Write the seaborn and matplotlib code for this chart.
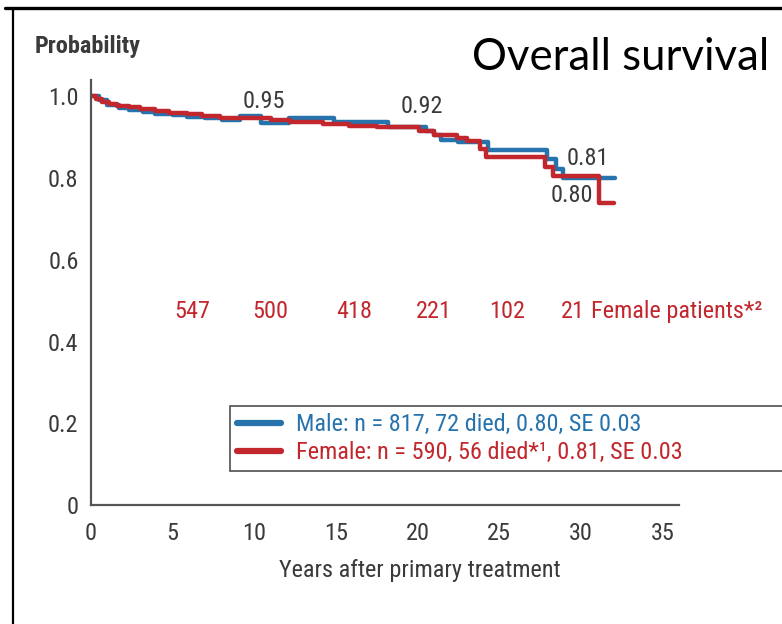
import numpy as np
import pandas as pd
import matplotlib
matplotlib.use("Agg")
import matplotlib.pyplot as plt
from matplotlib.lines import Line2D
import seaborn as sns

# ---- data ----
male_t = [0.0, 0.5, 1.0, 1.7, 2.3, 3.2, 3.9, 5.0, 5.9, 7.0, 8.0, 9.1, 10.4, 12.1, 14.9,
          18.2, 20.5, 21.0, 21.4, 22.5, 24.3, 27.9, 28.5, 28.9, 32.1]
male_s = [1.000, 0.990, 0.978, 0.972, 0.967, 0.962, 0.958, 0.954, 0.950, 0.946, 0.942, 0.952,
          0.936, 0.946, 0.938, 0.924, 0.915, 0.905, 0.893, 0.888, 0.868, 0.846, 0.822, 0.799, 0.799]
female_t = [0.0, 0.3, 0.7, 1.1, 1.6, 2.3, 3.0, 3.9, 4.8, 5.9, 6.8, 7.9, 9.3, 11.0, 12.2, 14.2,
            15.8, 17.5, 20.1, 21.0, 22.4, 23.0, 23.8, 24.2, 27.8, 28.3, 31.1, 32.0]
female_s = [1.000, 0.993, 0.987, 0.982, 0.976, 0.973, 0.968, 0.964, 0.960, 0.956, 0.952, 0.948,
            0.946, 0.942, 0.937, 0.932, 0.928, 0.924, 0.916, 0.905, 0.897, 0.891, 0.872, 0.852,
            0.828, 0.806, 0.739, 0.739]

groups = ["Male", "Female"]
legend_labels = ["Male: n = 817, 72 died, 0.80, SE 0.03",
                 "Female: n = 590, 56 died*\u00b9, 0.81, SE 0.03"]
at_risk_labels = ["547", "500", "418", "221", "102", "21"]
at_risk_x = [6.2, 11.0, 16.1, 21.0, 25.5, 29.5]
value_labels = ["0.95", "0.92", "0.81", "0.80"]
value_x = [10.6, 20.25, 30.4, 29.45]
value_y = [0.988, 0.974, 0.849, 0.757]
x_ticks = [0, 5, 10, 15, 20, 25, 30, 35]
y_ticks = [0, 0.2, 0.4, 0.6, 0.8, 1.0]
y_ticklabels = ["0", "0.2", "0.4", "0.6", "0.8", "1.0"]

df = pd.concat([
    pd.DataFrame({"t": male_t, "S": male_s, "group": "Male"}),
    pd.DataFrame({"t": female_t, "S": female_s, "group": "Female"}),
], ignore_index=True)

BLUE = "#2673ad"
RED = "#c1272d"
GRAY = "#3a3a3a"
AX = "#555555"
FS = 17.5

sns.set_theme(style="white")
narrow = ["Liberation Sans Narrow", "Roboto Condensed", "DejaVu Sans"]
plt.rcParams["font.family"] = narrow

fig = plt.figure(figsize=(7.82, 6.24), dpi=100)
ax = fig.add_axes([91 / 782, 1 - 505 / 624, 588 / 782, (505 - 80) / 624])

sns.lineplot(data=df, x="t", y="S", hue="group", hue_order=groups,
             palette={"Male": BLUE, "Female": RED}, estimator=None, sort=False,
             drawstyle="steps-post", lw=3.2, legend=False, ax=ax)

ax.set_xlim(0, 36)
ax.set_ylim(0, 1.04)
ax.set_xticks(x_ticks)
ax.set_xticklabels([str(v) for v in x_ticks])
ax.set_yticks(y_ticks)
ax.set_yticklabels(y_ticklabels)
for s in ["top", "right"]:
    ax.spines[s].set_visible(False)
for s in ["left", "bottom"]:
    ax.spines[s].set_color(AX)
    ax.spines[s].set_linewidth(1.6)
ax.tick_params(axis="both", direction="out", length=6, width=1.4, color=AX,
               labelsize=FS, labelcolor=GRAY)
ax.tick_params(axis="x", pad=6)
ax.tick_params(axis="y", pad=3)
ax.set_xlabel("Years after primary treatment", fontsize=FS, color=GRAY)
ax.xaxis.set_label_coords((420 - 91) / 588, -(571 - 505) / 425)
ax.xaxis.label.set_va("center")
ax.set_ylabel("")
ax.set_facecolor("white")

# legend
handles = [Line2D([], [], color=BLUE, lw=4.5), Line2D([], [], color=RED, lw=4.5)]
leg = ax.legend(handles, legend_labels, loc="upper left",
                bbox_to_anchor=(230 / 782, 1 - 478 / 624, 580 / 782, 72 / 624),
                bbox_transform=fig.transFigure, mode="expand",
                fontsize=FS, frameon=True, fancybox=False, edgecolor="#222222",
                handlelength=1.8, handletextpad=0.6, borderpad=0.3, labelspacing=0.2,
                borderaxespad=0)
leg.get_frame().set_linewidth(1.2)
for txt, c in zip(leg.get_texts(), [BLUE, RED]):
    txt.set_color(c)

# value annotations
for lab, x, y in zip(value_labels, value_x, value_y):
    ax.text(x, y, lab, fontsize=FS, color=GRAY, ha="center", va="center")

# number at risk
for lab, x in zip(at_risk_labels, at_risk_x):
    ax.text(x, 0.473, lab, fontsize=FS, color=RED, ha="center", va="center")
ax.text(30.6, 0.473, "Female patients*\u00b2", fontsize=FS, color=RED, ha="left",
        va="center", clip_on=False)

fig.text(35 / 782, 1 - 47 / 624, "Probability", fontsize=FS, color=GRAY,
         fontweight="bold", ha="left", va="center")
fig.text(621 / 782, 1 - 57 / 624, "Overall survival", fontsize=31.5, color="black",
         family=["Lato", "DejaVu Sans"], ha="center", va="center")

# outer frame lines
fig.add_artist(Line2D([5 / 782, 1], [1 - 8 / 624, 1 - 8 / 624], color="black", lw=2.4,
                      transform=fig.transFigure))
fig.add_artist(Line2D([13 / 782, 13 / 782], [1 - 8 / 624, 0], color="black", lw=1.6,
                      transform=fig.transFigure))

fig.savefig("out.png", dpi=100, facecolor="white")
